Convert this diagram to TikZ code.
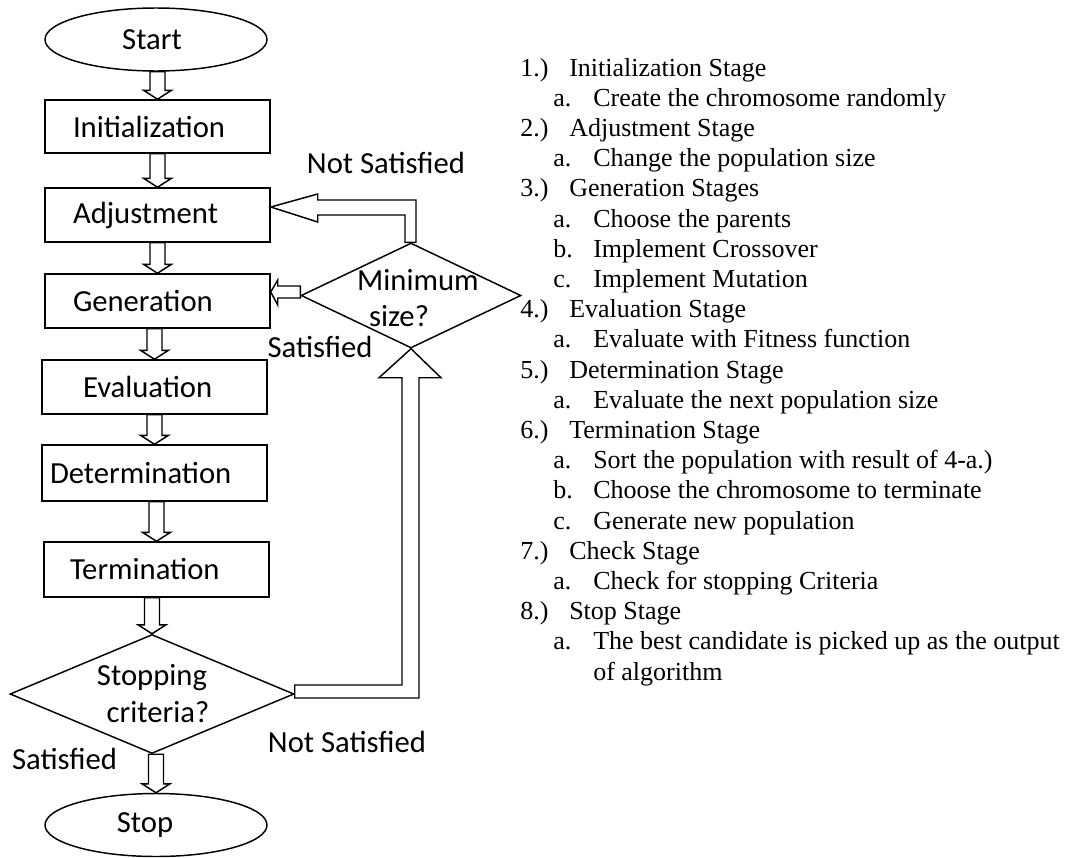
\documentclass[tikz,border=0pt]{standalone}
\usepackage{fontspec}
\setmainfont{Liberation Serif}
\newfontfamily\flowfont{Carlito}
\usetikzlibrary{shapes.geometric,calc}

% vertical hollow block arrow from the bottom of #1 down to the point #2
\newcommand\blockdown[2]{%
  \draw[blk] ($(#2 |- #1)+(-7.5,0)$) -- ($(#2)+(-7.5,-9)$) -- ($(#2)+(-14,-9)$)
    -- (#2) -- ($(#2)+(14,-9)$) -- ($(#2)+(7.5,-9)$) -- ($(#2 |- #1)+(7.5,0)$) -- cycle;}

% one line of the stage list: row, label x, label, text x, text
\newcommand\listline[5]{%
  \node[listtxt] (lab#1) at (#2,{76+(#1-1)*30.2}) {#3};
  \node[listtxt] (txt#1) at (#4,{76+(#1-1)*30.2}) {#5};}

\begin{document}
\begin{tikzpicture}[x=0.75pt,y=-0.75pt,
  every node/.style={font=\flowfont\fontsize{23pt}{27.75pt}\selectfont},
  lw/.style={line width=1.1pt},
  terminal/.style={lw,draw,ellipse,inner sep=0pt,minimum width=166.5pt,minimum height=47.25pt},
  stagebox/.style={lw,draw,rectangle,inner xsep=0pt,inner ysep=0pt,text width=168.75pt,
    align=left,minimum height=40.5pt},
  decision/.style={lw,draw,diamond,inner sep=0pt,aspect=2.4,align=center},
  blk/.style={lw,draw,fill=white,line join=miter},
  lbl/.style={inner sep=0pt},
  listtxt/.style={anchor=base west,inner sep=0pt,font=\fontsize{19.5pt}{22pt}\selectfont}]

\useasboundingbox (0,0) rectangle (1078,857);

% flowchart nodes
\node[terminal] (start) at (156,39.5) {Start\hspace*{6pt}};
\node[stagebox,minimum height=39.75pt] (init) at (157.5,126.5) {\hspace*{21pt}Initialization};
\node[stagebox] (adj) at (157.5,215) {\hspace*{21pt}Adjustment};
\node[stagebox] (gen) at (157.5,301) {\hspace*{21pt}Generation};
\node[stagebox] (eval) at (154.5,387) {\hspace*{30.75pt}Evaluation};
\node[stagebox,minimum height=42pt] (det) at (154.5,473) {\hspace*{6pt}Determination};
\node[stagebox,minimum height=41.25pt] (term) at (156.5,569.5) {\hspace*{19.5pt}Termination};
\node[decision,minimum width=213pt,minimum height=89.25pt] (stopdia) at (152,694)
  {Stopping\\\hspace*{9pt}criteria?};
\node[terminal] (stop) at (156,825) {Stop\hspace*{16.5pt}};
\node[lw,draw,diamond,inner sep=0pt,minimum width=165pt,minimum height=78.75pt] (mindia) at (411,295.5) {};
\node[lbl] (minA) at (418,280) {Minimum};
\node[lbl] (minB) at (399,316) {size?};

% branch labels
\node[lbl] (nsup) at (386,163) {Not Satisfied};
\node[lbl] (satup) at (320,347) {Satisfied};
\node[lbl] (satlow) at (64.5,759) {Satisfied};
\node[lbl] (nslow) at (347,742) {Not Satisfied};

% straight-down block arrows
\blockdown{start.south}{init.north}
\blockdown{init.south}{adj.north}
\blockdown{adj.south}{gen.north}
\blockdown{gen.south}{eval.north}
\blockdown{eval.south}{det.north}
\blockdown{det.south}{term.north}
\blockdown{term.south}{stopdia.north}
\blockdown{stopdia.south}{stop.north}

% "Not Satisfied" loop from the stopping test up to the size test
\draw[blk] ($(stopdia.east)+(0,-9)$) -- ($(mindia.south |- stopdia.east)+(-9,-9)$)
  -- ($(mindia.south)+(-9,29)$) -- ($(mindia.south)+(-32,29)$) -- (mindia.south)
  -- ($(mindia.south)+(30,29)$) -- ($(mindia.south)+(8,29)$)
  -- ($(mindia.south |- stopdia.east)+(8,4)$) -- ($(stopdia.east)+(0,4)$) -- cycle;

% "Not Satisfied" from the size test back to Adjustment
\coordinate (adjtip) at ($(adj.east)+(0,-8)$);
\draw[blk] ($(mindia.north)+(5,0)$) -- ($(mindia.north |- adjtip)+(5,-7)$)
  -- ($(adjtip)+(47,-7)$) -- ($(adjtip)+(47,-13)$) -- (adjtip)
  -- ($(adjtip)+(47,15)$) -- ($(adjtip)+(47,8)$)
  -- ($(mindia.north |- adjtip)+(-6,8)$) -- ($(mindia.north)+(-6,0)$) -- cycle;

% "Satisfied" from the size test to Generation
\coordinate (gentip) at ($(gen.east)+(0,-9)$);
\draw[blk] ($(mindia.west)+(0,-9.5)$) -- ($(gentip)+(7,-6)$) -- ($(gentip)+(7,-12)$)
  -- (gentip) -- ($(gentip)+(7,13)$) -- ($(gentip)+(7,6)$)
  -- ($(mindia.west)+(0,2.5)$) -- cycle;

% stage list
\listline{1}{520}{1.)}{569}{Initialization Stage}
\listline{2}{553}{a.}{593}{Create the chromosome randomly}
\listline{3}{520}{2.)}{569}{Adjustment Stage}
\listline{4}{553}{a.}{593}{Change the population size}
\listline{5}{520}{3.)}{569}{Generation Stages}
\listline{6}{553}{a.}{593}{Choose the parents}
\listline{7}{553}{b.}{593}{Implement Crossover}
\listline{8}{553}{c.}{593}{Implement Mutation}
\listline{9}{520}{4.)}{569}{Evaluation Stage}
\listline{10}{553}{a.}{593}{Evaluate with Fitness function}
\listline{11}{520}{5.)}{569}{Determination Stage}
\listline{12}{553}{a.}{593}{Evaluate the next population size}
\listline{13}{520}{6.)}{569}{Termination Stage}
\listline{14}{553}{a.}{593}{Sort the population with result of 4-a.)}
\listline{15}{553}{b.}{593}{Choose the chromosome to terminate}
\listline{16}{553}{c.}{593}{Generate new population}
\listline{17}{520}{7.)}{569}{Check Stage}
\listline{18}{553}{a.}{593}{Check for stopping Criteria}
\listline{19}{520}{8.)}{569}{Stop Stage}
\listline{20}{553}{a.}{593}{The best candidate is picked up as the output}
\node[listtxt] (txt21) at (593,{76+20*30.2}) {of algorithm};
\end{tikzpicture}
\end{document}
